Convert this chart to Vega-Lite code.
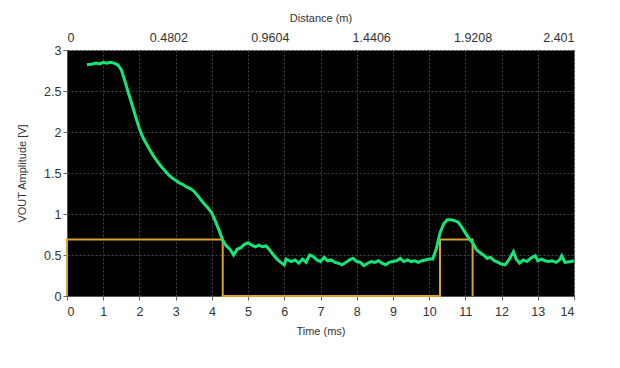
{
  "$schema": "https://vega.github.io/schema/vega-lite/v6.json",
  "width": 507,
  "height": 246,
  "autosize": {"type": "none"},
  "padding": {"left": 67, "top": 50, "right": 46, "bottom": 72},
  "background": "white",
  "view": {"fill": "black", "stroke": "#8a8a8a", "strokeWidth": 1},
  "datasets": {
    "vout": [
      {"t": 0.55, "v": 2.82}, {"t": 0.7, "v": 2.83}, {"t": 0.8, "v": 2.84}, {"t": 0.9, "v": 2.83},
      {"t": 1.0, "v": 2.85}, {"t": 1.1, "v": 2.84}, {"t": 1.2, "v": 2.85}, {"t": 1.3, "v": 2.84},
      {"t": 1.4, "v": 2.82}, {"t": 1.5, "v": 2.76}, {"t": 1.6, "v": 2.62}, {"t": 1.7, "v": 2.47},
      {"t": 1.8, "v": 2.33}, {"t": 1.9, "v": 2.18}, {"t": 2.0, "v": 2.04}, {"t": 2.1, "v": 1.93},
      {"t": 2.2, "v": 1.85}, {"t": 2.3, "v": 1.77}, {"t": 2.4, "v": 1.70}, {"t": 2.5, "v": 1.64},
      {"t": 2.6, "v": 1.58}, {"t": 2.7, "v": 1.53}, {"t": 2.8, "v": 1.48}, {"t": 2.9, "v": 1.44},
      {"t": 3.0, "v": 1.41}, {"t": 3.1, "v": 1.38}, {"t": 3.2, "v": 1.36}, {"t": 3.3, "v": 1.33},
      {"t": 3.4, "v": 1.31}, {"t": 3.5, "v": 1.28}, {"t": 3.6, "v": 1.23}, {"t": 3.7, "v": 1.17},
      {"t": 3.8, "v": 1.12}, {"t": 3.9, "v": 1.07}, {"t": 4.0, "v": 1.01}, {"t": 4.1, "v": 0.91},
      {"t": 4.2, "v": 0.80}, {"t": 4.3, "v": 0.68}, {"t": 4.4, "v": 0.61}, {"t": 4.5, "v": 0.57},
      {"t": 4.6, "v": 0.50}, {"t": 4.65, "v": 0.53}, {"t": 4.7, "v": 0.57}, {"t": 4.8, "v": 0.59},
      {"t": 4.9, "v": 0.63}, {"t": 5.0, "v": 0.65}, {"t": 5.1, "v": 0.62}, {"t": 5.2, "v": 0.60},
      {"t": 5.3, "v": 0.62}, {"t": 5.4, "v": 0.60}, {"t": 5.5, "v": 0.61}, {"t": 5.6, "v": 0.56},
      {"t": 5.7, "v": 0.50}, {"t": 5.8, "v": 0.45}, {"t": 5.9, "v": 0.41}, {"t": 6.0, "v": 0.38},
      {"t": 6.05, "v": 0.45}, {"t": 6.2, "v": 0.42}, {"t": 6.3, "v": 0.44}, {"t": 6.4, "v": 0.40},
      {"t": 6.5, "v": 0.45}, {"t": 6.6, "v": 0.41}, {"t": 6.7, "v": 0.50}, {"t": 6.8, "v": 0.48},
      {"t": 6.9, "v": 0.44}, {"t": 7.0, "v": 0.42}, {"t": 7.1, "v": 0.47}, {"t": 7.2, "v": 0.43},
      {"t": 7.3, "v": 0.44}, {"t": 7.4, "v": 0.41}, {"t": 7.5, "v": 0.40}, {"t": 7.6, "v": 0.38},
      {"t": 7.7, "v": 0.41}, {"t": 7.8, "v": 0.44}, {"t": 7.9, "v": 0.46}, {"t": 8.0, "v": 0.42},
      {"t": 8.1, "v": 0.41}, {"t": 8.2, "v": 0.37}, {"t": 8.3, "v": 0.40}, {"t": 8.4, "v": 0.42},
      {"t": 8.5, "v": 0.41}, {"t": 8.6, "v": 0.43}, {"t": 8.7, "v": 0.40}, {"t": 8.8, "v": 0.38},
      {"t": 8.9, "v": 0.41}, {"t": 9.0, "v": 0.42}, {"t": 9.1, "v": 0.43}, {"t": 9.2, "v": 0.46},
      {"t": 9.3, "v": 0.42}, {"t": 9.4, "v": 0.44}, {"t": 9.5, "v": 0.42}, {"t": 9.6, "v": 0.43},
      {"t": 9.7, "v": 0.41}, {"t": 9.8, "v": 0.43}, {"t": 9.9, "v": 0.44}, {"t": 10.0, "v": 0.45},
      {"t": 10.1, "v": 0.45}, {"t": 10.2, "v": 0.58}, {"t": 10.3, "v": 0.77}, {"t": 10.4, "v": 0.88},
      {"t": 10.5, "v": 0.93}, {"t": 10.6, "v": 0.93}, {"t": 10.7, "v": 0.92}, {"t": 10.8, "v": 0.90},
      {"t": 10.9, "v": 0.84}, {"t": 11.0, "v": 0.77}, {"t": 11.1, "v": 0.70}, {"t": 11.2, "v": 0.65},
      {"t": 11.3, "v": 0.57}, {"t": 11.4, "v": 0.53}, {"t": 11.5, "v": 0.50}, {"t": 11.6, "v": 0.46},
      {"t": 11.7, "v": 0.47}, {"t": 11.8, "v": 0.43}, {"t": 11.9, "v": 0.41}, {"t": 12.0, "v": 0.39},
      {"t": 12.1, "v": 0.38}, {"t": 12.2, "v": 0.44}, {"t": 12.33, "v": 0.54}, {"t": 12.4, "v": 0.45},
      {"t": 12.5, "v": 0.40}, {"t": 12.6, "v": 0.44}, {"t": 12.7, "v": 0.42}, {"t": 12.8, "v": 0.46},
      {"t": 12.93, "v": 0.49}, {"t": 13.0, "v": 0.43}, {"t": 13.1, "v": 0.45}, {"t": 13.2, "v": 0.43},
      {"t": 13.3, "v": 0.42}, {"t": 13.4, "v": 0.43}, {"t": 13.5, "v": 0.41}, {"t": 13.6, "v": 0.44},
      {"t": 13.66, "v": 0.49}, {"t": 13.75, "v": 0.41}, {"t": 13.9, "v": 0.42}, {"t": 14.0, "v": 0.43}
    ],
    "gate": [
      {"i": 0, "t": 0, "v": 0}, {"i": 1, "t": 0, "v": 0.69}, {"i": 2, "t": 4.3, "v": 0.69},
      {"i": 3, "t": 4.3, "v": 0}, {"i": 4, "t": 10.3, "v": 0}, {"i": 5, "t": 10.3, "v": 0.69},
      {"i": 6, "t": 11.2, "v": 0.69}, {"i": 7, "t": 11.2, "v": 0}
    ]
  },
  "config": {
    "font": "Liberation Sans",
    "axis": {
      "labelFont": "Liberation Sans", "labelFontSize": 12.5, "labelColor": "#333",
      "titleFont": "Liberation Sans", "titleFontSize": 11, "titleFontWeight": "normal", "titleColor": "#333",
      "domainColor": "#555", "tickColor": "#666", "tickSize": 4,
      "gridColor": "#444", "gridDash": [2, 2], "gridWidth": 1
    }
  },
  "resolve": {"axis": {"x": "independent"}},
  "layer": [
    {
      "data": {"name": "gate"},
      "mark": {"type": "line", "color": "#d9a22b", "strokeWidth": 2, "clip": false},
      "encoding": {
        "x": {"field": "t", "type": "quantitative", "scale": {"domain": [0, 14], "nice": false},
              "axis": {"orient": "bottom", "title": "Time (ms)", "values": [0,1,2,3,4,5,6,7,8,9,10,11,12,13,14],
                       "grid": true, "labelPadding": 5, "titlePadding": 8}},
        "y": {"field": "v", "type": "quantitative", "scale": {"domain": [0, 3], "nice": false},
              "axis": {"title": "VOUT Amplitude [V]", "values": [0, 0.5, 1, 1.5, 2, 2.5, 3], "format": ".1~f",
                       "grid": true, "titlePadding": 16}},
        "order": {"field": "i", "type": "quantitative"}
      }
    },
    {
      "data": {"name": "vout"},
      "mark": {"type": "line", "color": "#14e67a", "strokeWidth": 3},
      "encoding": {
        "x": {"field": "t", "type": "quantitative", "scale": {"domain": [0, 14], "nice": false},
              "axis": {"orient": "top", "title": "Distance (m)", "values": [0, 2.8, 5.6, 8.4, 11.2, 14],
                       "labelExpr": "format(datum.value * 2.401 / 14, '.4~f')",
                       "grid": false, "ticks": false, "domain": false, "labelPadding": 6, "titlePadding": 8}},
        "y": {"field": "v", "type": "quantitative"},
        "order": {"field": "t", "type": "quantitative"}
      }
    }
  ]
}
